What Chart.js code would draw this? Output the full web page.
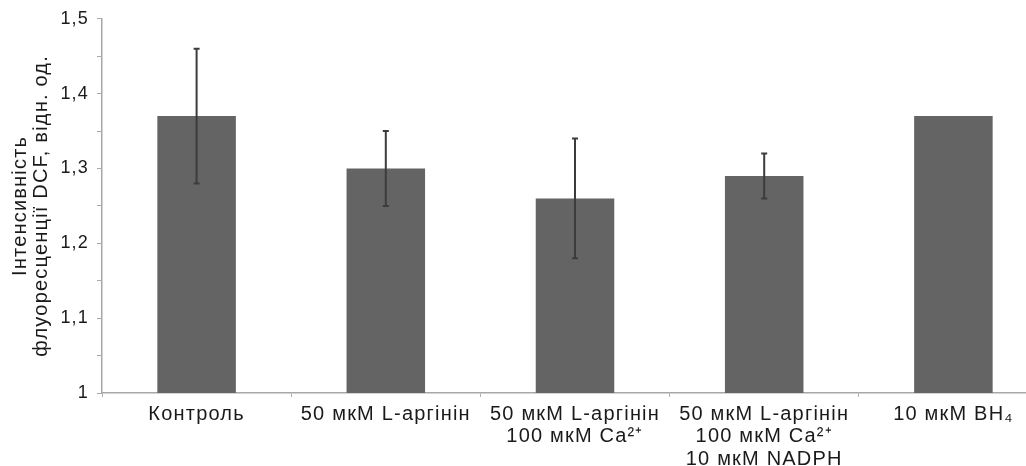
<!DOCTYPE html>
<html lang="uk">
<head>
  <meta charset="UTF-8">
  <title>Інтенсивність флуоресценції DCF</title>
  <script src="https://cdn.jsdelivr.net/npm/chart.js"></script>
  <style>
    body { margin: 0; background: #fff; overflow: hidden; }
    #wrap { width: 1048px; height: 466px; }
  </style>
</head>
<body>
  <div id="wrap"><canvas id="dcfChart" width="1048" height="466"></canvas></div>

  <script>
    const groups = [
      'Контроль',
      '50 мкМ L-аргінін',
      ['50 мкМ L-аргінін', '100 мкМ Ca²⁺'],
      ['50 мкМ L-аргінін', '100 мкМ Ca²⁺', '10 мкМ NADPH'],
      '10 мкМ BH₄'
    ];
    const meanValues = [1.37, 1.30, 1.26, 1.29, 1.37];
    const errLow  = [1.28, 1.25, 1.18, 1.26, null];
    const errHigh = [1.46, 1.35, 1.34, 1.32, null];
    const yTicks = [1, 1.1, 1.2, 1.3, 1.4, 1.5];

    const fontFamily = '"Liberation Sans", Arial, sans-serif';

    // the print font is set wide; canvas letterSpacing survives Chart.js save/restore
    const wideText = {
      id: 'wideText',
      beforeDraw(chart) { chart.ctx.letterSpacing = '1.2px'; }
    };

    // vertical error bars with small caps
    const errorBars = {
      id: 'errorBars',
      afterDatasetsDraw(chart) {
        const ctx = chart.ctx;
        const meta = chart.getDatasetMeta(0);
        const y = chart.scales.y;
        ctx.save();
        ctx.strokeStyle = '#3c3c3c';
        ctx.lineWidth = 2;
        meta.data.forEach((bar, i) => {
          if (errLow[i] == null) return;
          const yLo = y.getPixelForValue(errLow[i]);
          const yHi = y.getPixelForValue(errHigh[i]);
          ctx.beginPath();
          ctx.moveTo(bar.x, yLo);
          ctx.lineTo(bar.x, yHi);
          ctx.moveTo(bar.x - 3, yLo);
          ctx.lineTo(bar.x + 3, yLo);
          ctx.moveTo(bar.x - 3, yHi);
          ctx.lineTo(bar.x + 3, yHi);
          ctx.stroke();
        });
        ctx.restore();
      }
    };

    new Chart(document.getElementById('dcfChart'), {
      type: 'bar',
      data: {
        labels: groups,
        datasets: [{
          data: meanValues,
          backgroundColor: '#646464',
          borderWidth: 0,
          barPercentage: 0.415,
          categoryPercentage: 1
        }]
      },
      options: {
        responsive: false,
        animation: false,
        layout: { padding: { top: 8, right: 0, left: 0, bottom: 0 } },
        plugins: {
          legend: { display: false },
          tooltip: { enabled: false }
        },
        scales: {
          x: {
            grid: { display: true, drawOnChartArea: false, tickLength: 4, offset: true, color: '#b0b0b0' },
            border: { color: '#a8a8a8', width: 1.5 },
            ticks: {
              color: '#1a1a1a',
              font: { family: fontFamily, size: 20, lineHeight: 1.13 },
              maxRotation: 0,
              autoSkip: false,
              padding: 6
            },
            afterFit(scale) { scale.height = 73; }
          },
          y: {
            min: 1,
            max: 1.5,
            grid: { display: true, drawOnChartArea: false, tickLength: 5, color: '#aaa' },
            border: { color: '#a8a8a8', width: 1.5 },
            afterBuildTicks(scale) {
              const t = [];
              yTicks.forEach((v, i) => {
                t.push({ value: v });
                if (i < yTicks.length - 1) t.push({ value: +(v + 0.05).toFixed(2) });
              });
              scale.ticks = t;
            },
            ticks: {
              color: '#1a1a1a',
              font: { family: fontFamily, size: 18 },
              padding: 8,
              callback(v) {
                return yTicks.some(t => Math.abs(t - v) < 1e-6) ? String(v).replace('.', ',') : '';
              }
            },
            title: {
              display: true,
              text: ['Інтенсивність', 'флуоресценції DCF, відн. од.'],
              color: '#1a1a1a',
              font: { family: fontFamily, size: 20, lineHeight: 1.05 },
              padding: { top: 10, bottom: 0 }
            },
            afterFit(scale) { scale.width = 102; }
          }
        }
      },
      plugins: [wideText, errorBars]
    });
  </script>
</body>
</html>
